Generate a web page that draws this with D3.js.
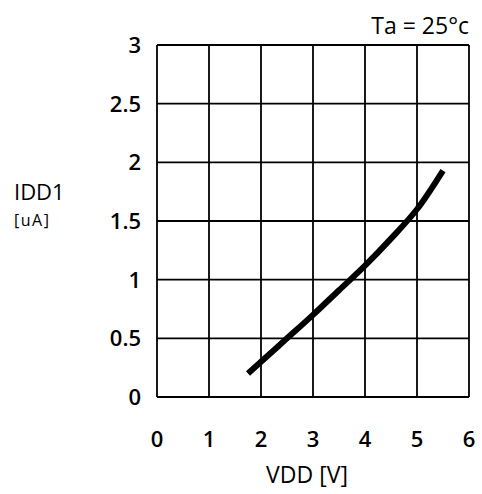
<!DOCTYPE html>
<html><head><meta charset="utf-8">
<script src="https://cdn.jsdelivr.net/npm/d3@7"></script>
<style>body{margin:0;background:#fff}text{font-family:"Open Sans",sans-serif;fill:#000}</style>
</head><body><svg id="c" width="482" height="494"></svg>
<script>
const xTicks = [0,1,2,3,4,5,6];
const yTicks = [0,0.5,1,1.5,2,2.5,3];
const yTickLabels = ["0","0.5","1","1.5","2","2.5","3"];
const vdd = [1.75,2.0,2.5,3.0,3.5,4.0,4.5,5.0,5.5];
const idd = [0.20,0.30,0.50,0.70,0.91,1.12,1.35,1.60,1.93];

const svg = d3.select("#c");
const L=157,R=469,T=45,B=397;
const x = d3.scaleLinear().domain([0,6]).range([L,R]);
const y = d3.scaleLinear().domain([0,3]).range([B,T]);

// grid
svg.append("g").selectAll("line").data(xTicks).join("line")
  .attr("x1",d=>x(d)).attr("x2",d=>x(d)).attr("y1",T).attr("y2",B)
  .attr("stroke","#000").attr("stroke-width",1.8);
svg.append("g").selectAll("line").data(yTicks).join("line")
  .attr("x1",L).attr("x2",R).attr("y1",d=>y(d)).attr("y2",d=>y(d))
  .attr("stroke","#000").attr("stroke-width",1.8);

// tick labels
svg.append("g").selectAll("text").data(xTicks).join("text")
  .attr("x",d=>x(d)).attr("y",447).attr("text-anchor","middle")
  .attr("font-size",22).attr("font-weight",600).text(d=>d);
svg.append("g").selectAll("text").data(yTicks).join("text")
  .attr("x",141).attr("y",d=>y(d)+8).attr("text-anchor","end")
  .attr("font-size",22).attr("font-weight",600).text((d,i)=>yTickLabels[i]);

// curve
svg.append("path").datum(vdd.map((v,i)=>[v,idd[i]]))
  .attr("d",d3.line().x(d=>x(d[0])).y(d=>y(d[1])).curve(d3.curveCatmullRom))
  .attr("fill","none").attr("stroke","#000").attr("stroke-width",6);

// labels
svg.append("text").attr("x",307).attr("y",483).attr("text-anchor","middle")
  .attr("font-size",23).text("VDD [V]");
svg.append("text").attr("x",14).attr("y",200).attr("font-size",22).text("IDD1");
svg.append("text").attr("x",14).attr("y",226).attr("font-size",16)
  .attr("letter-spacing",1.5).text("[uA]");
svg.append("text").attr("x",469).attr("y",34).attr("text-anchor","end")
  .attr("font-size",23).text("Ta = 25°c");
</script></body></html>
